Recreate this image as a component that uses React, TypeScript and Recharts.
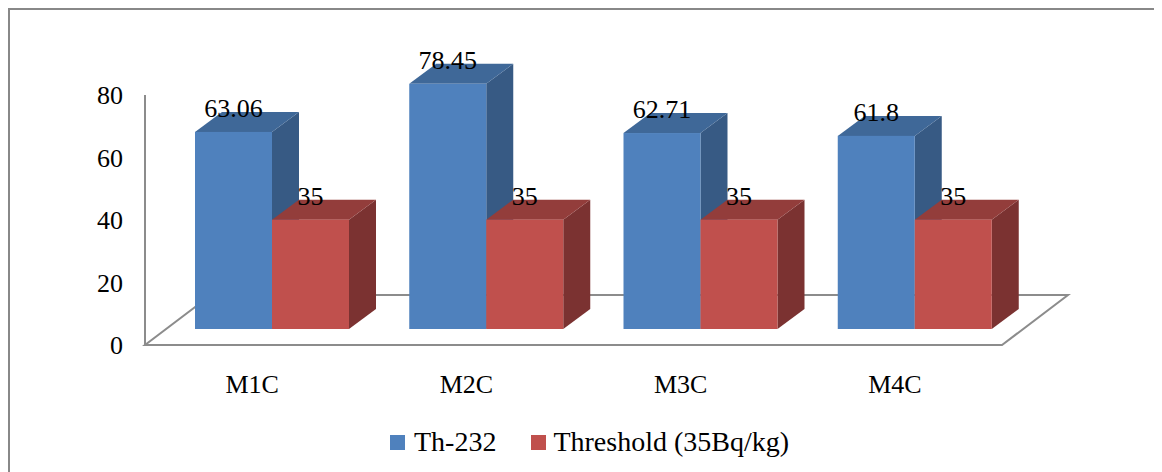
import React from 'react';
import * as R from 'recharts';
import { BarChart, Bar, XAxis, YAxis, Legend, LabelList, Customized } from 'recharts';

const categories = ['M1C', 'M2C', 'M3C', 'M4C'];
const th232 = [63.06, 78.45, 62.71, 61.8];
const threshold = [35, 35, 35, 35];
const yTicks = [0, 20, 40, 60, 80];

const seriesNames = { th: 'Th-232', thr: 'Threshold (35Bq/kg)' };

const data = categories.map((name, i) => ({ name, th: th232[i], thr: threshold[i] }));

const FONT = '"Liberation Serif", "Times New Roman", serif';
const W = 1154;
const H = 464;
const X_AXIS_H = 40;
const Y_AXIS_W = 137;
const MARGIN = { top: 87, right: 160, bottom: 87, left: 0 };

// perspective: bars sit halfway back on the floor, which is FLOOR_DX/FLOOR_DY deep
const SHIFT_X = 20;
const SHIFT_Y = -16;
const DEPTH_X = 27;
const DEPTH_Y = -20;
const FLOOR_DX = 66;
const FLOOR_DY = -50;

const palette = {
  th: { front: '#4f81bd', top: '#3f6898', side: '#375a84' },
  thr: { front: '#c0504d', top: '#933d3b', side: '#7b3231' },
};

function makeBox(colors: { front: string; top: string; side: string }) {
  return (props: any) => {
    const { x, y, width, height } = props;
    if (width == null || height == null) return null;
    const x0 = x + SHIFT_X;
    const y0 = y + SHIFT_Y;
    const x1 = x0 + width;
    const y1 = y0 + height;
    const top = `${x0},${y0} ${x1},${y0} ${x1 + DEPTH_X},${y0 + DEPTH_Y} ${x0 + DEPTH_X},${y0 + DEPTH_Y}`;
    const side = `${x1},${y0} ${x1 + DEPTH_X},${y0 + DEPTH_Y} ${x1 + DEPTH_X},${y1 + DEPTH_Y} ${x1},${y1}`;
    return (
      <g>
        <polygon points={side} fill={colors.side} />
        <polygon points={top} fill={colors.top} />
        <rect x={x0} y={y0} width={width} height={height} fill={colors.front} />
      </g>
    );
  };
}

const valueLabel = (props: any) => {
  const { x, y, width, value } = props;
  return (
    <text
      x={x + width / 2 + SHIFT_X}
      y={y + SHIFT_Y - 15}
      textAnchor="middle"
      fontFamily={FONT}
      fontSize={26}
      fill="#000"
    >
      {value}
    </text>
  );
};

const XTick = (props: any) => {
  const { x, y, payload } = props;
  return (
    <text x={x} y={y + 40} textAnchor="middle" fontFamily={FONT} fontSize={26} fill="#000">
      {payload.value}
    </text>
  );
};

const YTick = (props: any) => {
  const { x, y, payload } = props;
  return (
    <text x={x - 14} y={y + 9} textAnchor="end" fontFamily={FONT} fontSize={26} fill="#000">
      {payload.value}
    </text>
  );
};

// floor parallelogram and value axis line
const Floor = () => {
  const hook = (R as any).usePlotArea;
  const area = hook ? hook() : null;
  const px = area ? area.x : MARGIN.left + Y_AXIS_W;
  const py = area ? area.y : MARGIN.top;
  const pw = area ? area.width : W - MARGIN.left - MARGIN.right - Y_AXIS_W;
  const ph = area ? area.height : H - MARGIN.top - MARGIN.bottom - X_AXIS_H;
  const bx = px;
  const by = py + ph;
  const pts = `${bx},${by} ${bx + pw},${by} ${bx + pw + FLOOR_DX},${by + FLOOR_DY} ${bx + FLOOR_DX},${by + FLOOR_DY}`;
  return (
    <g>
      <polygon points={pts} fill="none" stroke="#8c8c8c" strokeWidth={2} />
      <line x1={bx} y1={py} x2={bx} y2={by} stroke="#8c8c8c" strokeWidth={2} />
    </g>
  );
};

const LegendContent = () => (
  <div
    style={{
      display: 'flex',
      alignItems: 'center',
      fontFamily: FONT,
      fontSize: 28,
      color: '#000',
      lineHeight: '32px',
    }}
  >
    <span style={{ width: 15, height: 15, background: palette.th.front, display: 'inline-block' }} />
    <span style={{ marginLeft: 9 }}>{seriesNames.th}</span>
    <span
      style={{ width: 15, height: 15, background: palette.thr.front, display: 'inline-block', marginLeft: 35 }}
    />
    <span style={{ marginLeft: 7 }}>{seriesNames.thr}</span>
  </div>
);

export default function App() {
  return (
    <div style={{ position: 'relative', width: W, height: H }}>
      <svg
        width={W}
        height={H}
        style={{ position: 'absolute', left: 0, top: 0, pointerEvents: 'none' }}
      >
        <rect x={1} y={1} width={W + 10} height={H + 10} fill="#fff" stroke="#888" strokeWidth={2} />
      </svg>
      <div style={{ position: 'absolute', left: 0, top: 0 }}>
        <BarChart width={W} height={H} data={data} margin={MARGIN} barCategoryGap={30} barGap={0}>
          <Customized component={Floor} />
          <XAxis
            dataKey="name"
            axisLine={false}
            tickLine={false}
            tick={<XTick />}
            height={X_AXIS_H}
            interval={0}
          />
          <YAxis
            domain={[0, 80]}
            ticks={yTicks}
            axisLine={false}
            tickLine={false}
            tick={<YTick />}
            width={Y_AXIS_W}
          />
          <Legend
            layout="horizontal"
            verticalAlign="middle"
            align="center"
            content={<LegendContent />}
            wrapperStyle={{ left: 382, top: 418, width: 500, height: 32 }}
          />
          <Bar dataKey="th" name={seriesNames.th} shape={makeBox(palette.th)} isAnimationActive={false}>
            <LabelList dataKey="th" content={valueLabel} />
          </Bar>
          <Bar dataKey="thr" name={seriesNames.thr} shape={makeBox(palette.thr)} isAnimationActive={false}>
            <LabelList dataKey="thr" content={valueLabel} />
          </Bar>
        </BarChart>
      </div>
    </div>
  );
}
